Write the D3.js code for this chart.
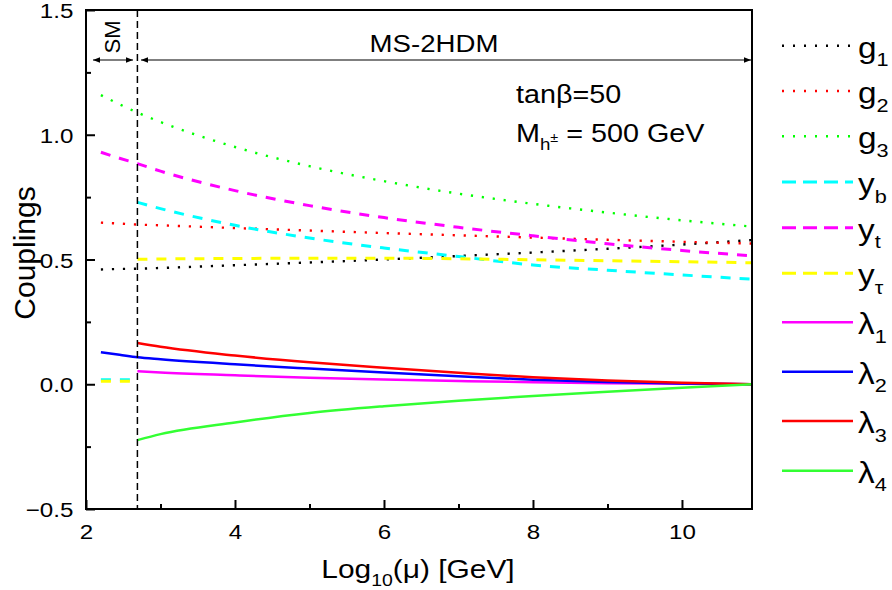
<!DOCTYPE html>
<html>
<head>
<meta charset="utf-8">
<script src="https://cdn.jsdelivr.net/npm/d3@7"></script>
<style>
  body { margin: 0; background: #fff; }
  text { font-family: "Liberation Sans", Arial, sans-serif; fill: #000; }
</style>
</head>
<body>
<script>
// scale points, log10(mu)
const muSM = [2.2, 2.45, 2.69];
const muMS = [2.69, 3, 4, 5, 6, 7, 8, 9, 10, 10.94];

// couplings below / above the matching scale (null = not drawn there)
const g1SM = [0.460, 0.462, 0.463];
const g1MS = [0.463, 0.466, 0.477, 0.488, 0.500, 0.514, 0.528, 0.543, 0.560, 0.578];
const g2SM = [0.648, 0.644, 0.640];
const g2MS = [0.640, 0.637, 0.626, 0.616, 0.606, 0.597, 0.588, 0.579, 0.571, 0.564];
const g3SM = [1.159, 1.122, 1.089];
const g3MS = [1.089, 1.051, 0.951, 0.874, 0.814, 0.764, 0.723, 0.688, 0.657, 0.632];
const ybSM = [0.018, 0.018, 0.018];
const ybMS = [0.729, 0.704, 0.637, 0.586, 0.546, 0.512, 0.478, 0.457, 0.438, 0.421];
const ytSM = [0.930, 0.906, 0.884];
const ytMS = [0.884, 0.854, 0.776, 0.716, 0.668, 0.629, 0.595, 0.563, 0.536, 0.515];
const ytauSM = [0.012, 0.012, 0.012];
const ytauMS = [0.501, 0.502, 0.504, 0.505, 0.505, 0.503, 0.499, 0.495, 0.491, 0.487];
const lam1SM = null;
const lam1MS = [0.052, 0.047, 0.036, 0.026, 0.019, 0.013, 0.008, 0.004, 0.002, 0];
const lam2SM = [0.128, 0.118, 0.108];
const lam2MS = [0.108, 0.100, 0.080, 0.063, 0.047, 0.032, 0.018, 0.009, 0.003, 0];
const lam3SM = null;
const lam3MS = [0.165, 0.150, 0.115, 0.088, 0.066, 0.046, 0.028, 0.015, 0.006, 0];
const lam4SM = null;
const lam4MS = [-0.224, -0.200, -0.153, -0.115, -0.088, -0.066, -0.047, -0.030, -0.014, 0];

const xTicks = [2, 4, 6, 8, 10];
const yTicks = [-0.5, 0.0, 0.5, 1.0, 1.5];
const matchScale = 2.69;

const series = [
  { base: 'g', sub: '1', sm: g1SM, ms: g1MS, color: '#000000', style: 'dot' },
  { base: 'g', sub: '2', sm: g2SM, ms: g2MS, color: '#ff0000', style: 'dot' },
  { base: 'g', sub: '3', sm: g3SM, ms: g3MS, color: '#00ff00', style: 'dot' },
  { base: 'y', sub: 'b', sm: ybSM, ms: ybMS, color: '#00ffff', style: 'dash' },
  { base: 'y', sub: 't', sm: ytSM, ms: ytMS, color: '#ff00ff', style: 'dash' },
  { base: 'y', sub: 'τ', sm: ytauSM, ms: ytauMS, color: '#ffff00', style: 'dash' },
  { base: 'λ', sub: '1', sm: lam1SM, ms: lam1MS, color: '#ff00ff', style: 'solid' },
  { base: 'λ', sub: '2', sm: lam2SM, ms: lam2MS, color: '#0000ff', style: 'solid' },
  { base: 'λ', sub: '3', sm: lam3SM, ms: lam3MS, color: '#ff0000', style: 'solid' },
  { base: 'λ', sub: '4', sm: lam4SM, ms: lam4MS, color: '#33ff33', style: 'solid' }
];

const width = 892;
const height = 590;
const SX = 1.15; // horizontal stretch of the original lettering

const x = d3.scaleLinear().domain([2, 10.94]).range([86, 752]);
const y = d3.scaleLinear().domain([-0.5, 1.5]).range([509, 10]);

const svg = d3.select('body')
  .append('svg')
  .attr('width', width)
  .attr('height', height);

const defs = svg.append('defs');
defs.append('marker')
  .attr('id', 'arrow')
  .attr('viewBox', '0 0 10 10')
  .attr('refX', 10).attr('refY', 5)
  .attr('markerWidth', 10).attr('markerHeight', 7)
  .attr('markerUnits', 'userSpaceOnUse')
  .attr('orient', 'auto-start-reverse')
  .append('path')
  .attr('d', 'M0,1 L10,5 L0,9 Z')
  .attr('fill', '#000');

const styleDash = {
  dot: { dash: '2.2,8.8', width: 2.4 },
  dash: { dash: '10,9', width: 3 },
  solid: { dash: null, width: 2.5 }
};

const line = d3.line()
  .x(d => x(d[0]))
  .y(d => y(d[1]))
  .curve(d3.curveMonotoneX);

const plot = svg.append('g').attr('class', 'curves');

series.forEach(s => {
  const segments = [];
  const msPts = muMS.map((m, i) => [m, s.ms[i]]);
  if (s.sm) {
    const smPts = muSM.map((m, i) => [m, s.sm[i]]);
    // continuous across the matching scale unless the value jumps
    if (Math.abs(s.sm[s.sm.length - 1] - s.ms[0]) < 1e-6) {
      segments.push(smPts.concat(msPts.slice(1)));
    } else {
      segments.push(smPts, msPts);
    }
  } else {
    segments.push(msPts);
  }
  const st = styleDash[s.style];
  segments.forEach(seg => {
    plot.append('path')
      .datum(seg)
      .attr('d', line)
      .attr('fill', 'none')
      .attr('stroke', s.color)
      .attr('stroke-width', st.width)
      .attr('stroke-dasharray', st.dash);
  });
});

// matching scale marker
svg.append('line')
  .attr('x1', x(matchScale)).attr('x2', x(matchScale))
  .attr('y1', y(1.5)).attr('y2', y(-0.5))
  .attr('stroke', '#000')
  .attr('stroke-width', 1.5)
  .attr('stroke-dasharray', '7,4');

// frame
svg.append('rect')
  .attr('x', x(2)).attr('y', y(1.5))
  .attr('width', x(10.94) - x(2))
  .attr('height', y(-0.5) - y(1.5))
  .attr('fill', 'none')
  .attr('stroke', '#000')
  .attr('stroke-width', 2);

// axes with inward ticks
const xAxis = svg.append('g')
  .attr('transform', `translate(0,${ y(-0.5) })`)
  .call(d3.axisBottom(x).tickValues(xTicks).tickSize(-9).tickPadding(15).tickFormat(d3.format('d')));
xAxis.append('g')
  .call(d3.axisBottom(x).tickValues([3, 5, 7, 9]).tickSize(-5).tickFormat(''));

const yAxis = svg.append('g')
  .attr('transform', `translate(${ x(2) },0)`)
  .call(d3.axisLeft(y).tickValues(yTicks).tickSize(-9).tickPadding(11).tickFormat(d3.format('.1f')));
yAxis.append('g')
  .call(d3.axisLeft(y).tickValues([-0.25, 0.25, 0.75, 1.25]).tickSize(-5).tickFormat(''));

svg.selectAll('.domain').remove();
svg.selectAll('.tick line').attr('stroke', '#000').attr('stroke-width', 2);
svg.selectAll('.tick text')
  .style('font-size', '21px')
  .style('font-family', '"Liberation Sans", Arial, sans-serif')
  .attr('fill', '#000')
  .attr('transform', `scale(${ SX },1)`);
xAxis.selectAll('.tick text').attr('dy', '0.71em');
yAxis.selectAll('.tick text').attr('dy', '0.36em');

// stretched text helper: parts = [[text, kind]] where kind is '', 'sub', 'subsup'
function richText(parent, px, py, parts, size, anchor) {
  const t = parent.append('text')
    .attr('transform', `translate(${ px },${ py }) scale(${ SX },1)`)
    .attr('text-anchor', anchor || 'start')
    .style('font-size', `${ size }px`);
  let level = 0;
  parts.forEach(([str, kind]) => {
    const target = kind === 'sub' ? size * 0.3 : kind === 'subsup' ? 0 : 0;
    const fs = kind === 'sub' ? size * 0.65 : kind === 'subsup' ? size * 0.5 : size;
    t.append('tspan')
      .attr('dy', target - level)
      .style('font-size', `${ fs }px`)
      .text(str);
    level = target;
  });
  return t;
}

// region annotations
svg.append('line')
  .attr('x1', 93).attr('x2', 133).attr('y1', 60).attr('y2', 60)
  .attr('stroke', '#000').attr('stroke-width', 1.2)
  .attr('marker-start', 'url(#arrow)').attr('marker-end', 'url(#arrow)');
svg.append('line')
  .attr('x1', 141).attr('x2', 751).attr('y1', 60).attr('y2', 60)
  .attr('stroke', '#000').attr('stroke-width', 1.2)
  .attr('marker-start', 'url(#arrow)').attr('marker-end', 'url(#arrow)');

svg.append('text')
  .attr('transform', 'translate(120,37) rotate(-90)')
  .attr('text-anchor', 'middle')
  .style('font-size', '22px')
  .text('SM');

richText(svg, 434, 52, [['MS-2HDM', '']], 24, 'middle');

richText(svg, 516, 103, [['tanβ=50', '']], 25);
richText(svg, 516, 142, [['M', ''], ['h', 'sub'], ['±', 'subsup'], [' = 500 GeV', '']], 25);

// axis titles
richText(svg, 418, 578, [['Log', ''], ['10', 'sub'], ['(μ) [GeV]', '']], 26, 'middle');
svg.append('text')
  .attr('transform', 'translate(35,253) rotate(-90)')
  .attr('text-anchor', 'middle')
  .style('font-size', '30px')
  .text('Couplings');

// legend
const legendRows = [45.7, 91, 136.3, 182, 227.7, 273.3, 322.3, 371.7, 421, 470.7];
const legend = svg.append('g').attr('class', 'legend');
series.forEach((s, i) => {
  const st = styleDash[s.style];
  const ly = legendRows[i];
  legend.append('line')
    .attr('x1', 782).attr('x2', 853)
    .attr('y1', ly).attr('y2', ly)
    .attr('stroke', s.color)
    .attr('stroke-width', st.width)
    .attr('stroke-dasharray', s.style === 'dot' ? '2,9' : s.style === 'dash' ? '14,7' : null);
  richText(legend, 858, ly + 12, [[s.base, ''], [s.sub, 'sub']], 29);
});
</script>
</body>
</html>
